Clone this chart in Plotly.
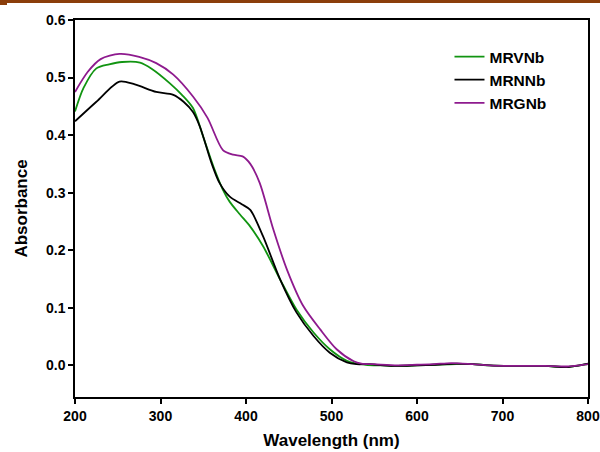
import plotly.graph_objects as go

# Wavelength (nm) and absorbance series
wl_mrvnb = [200, 210, 225, 240, 255, 276, 290, 311, 325, 338, 350, 362, 373, 381, 393, 405, 420, 440, 459, 479, 498, 518, 540, 560, 577, 600, 620, 646, 665, 685, 720, 750, 775, 790, 800]
abs_mrvnb = [0.441, 0.482, 0.516, 0.523, 0.527, 0.526, 0.515, 0.49, 0.47, 0.447, 0.397, 0.345, 0.305, 0.284, 0.262, 0.241, 0.207, 0.149, 0.097, 0.057, 0.028, 0.008, 0.001, 0.0, -0.001, 0.0, 0.001, 0.002, 0.002, 0.0, -0.001, -0.001, -0.003, 0.0, 0.002]

wl_mrnnb = [200, 225, 252, 270, 295, 315, 327, 338, 346, 360, 369, 381, 395, 405, 420, 440, 459, 479, 498, 518, 529, 545, 560, 577, 600, 620, 646, 665, 685, 720, 750, 775, 790, 800]
abs_mrnnb = [0.424, 0.458, 0.493, 0.488, 0.475, 0.47, 0.458, 0.44, 0.415, 0.35, 0.317, 0.293, 0.28, 0.27, 0.224, 0.149, 0.092, 0.051, 0.022, 0.005, 0.002, 0.002, 0.0, -0.001, 0.0, 0.001, 0.003, 0.002, 0.0, -0.001, -0.001, -0.003, 0.0, 0.003]

wl_mrgnb = [200, 215, 230, 252, 275, 295, 315, 338, 355, 373, 385, 396, 405, 416, 432, 448, 467, 487, 506, 526, 535, 550, 577, 600, 620, 640, 665, 685, 720, 750, 775, 790, 800]
abs_mrgnb = [0.475, 0.51, 0.532, 0.541, 0.536, 0.525, 0.505, 0.467, 0.43, 0.374, 0.366, 0.363, 0.35, 0.317, 0.236, 0.166, 0.103, 0.062, 0.028, 0.007, 0.003, 0.002, 0.0, 0.001, 0.002, 0.004, 0.002, 0.0, -0.001, -0.001, -0.002, 0.0, 0.002]

x_ticks = [200, 300, 400, 500, 600, 700, 800]
y_ticks = [0.0, 0.1, 0.2, 0.3, 0.4, 0.5, 0.6]

FONT = "Liberation Sans"

fig = go.Figure()
series = [
    ("MRVNb", wl_mrvnb, abs_mrvnb, "#119411"),
    ("MRNNb", wl_mrnnb, abs_mrnnb, "#000000"),
    ("MRGNb", wl_mrgnb, abs_mrgnb, "#8E1A8E"),
]
for name, x, y, c in series:
    fig.add_trace(go.Scatter(
        x=x, y=y, name=name, mode="lines", legendgroup=name,
        line=dict(color=c, width=1.8, shape="spline", smoothing=0.8),
    ))

fig.update_layout(
    width=600, height=452,
    margin=dict(l=75, r=12, t=20, b=55),
    paper_bgcolor="white", plot_bgcolor="white",
    font=dict(family=FONT, color="black"),
    showlegend=True,
    legend=dict(
        x=0.73, y=0.947, xanchor="left", yanchor="top",
        bgcolor="rgba(0,0,0,0)",
        font=dict(family=FONT, size=15.5, weight="bold", color="black"),
        tracegroupgap=0,
    ),
    shapes=[
        dict(type="rect", xref="paper", yref="paper",
             x0=-75/513, x1=525/513, y0=1 + 17/377, y1=1 + 21/377,
             fillcolor="#8B3E0A", line=dict(width=0), layer="above"),
        dict(type="rect", xref="paper", yref="paper",
             x0=-75/513, x1=-68/513, y0=1 + 15/377, y1=1 + 21/377,
             fillcolor="#8B3E0A", line=dict(width=0), layer="above"),
    ],
)
fig.update_xaxes(
    range=[200, 800], tickvals=x_ticks, automargin=False,
    showline=True, linecolor="black", linewidth=1.5, mirror=True,
    ticks="outside", ticklen=5, tickwidth=1.5, tickcolor="black",
    showgrid=False, zeroline=False,
    tickfont=dict(family=FONT, size=14, weight="bold"),
    title=dict(text="Wavelength (nm)", font=dict(family=FONT, size=17, weight="bold"), standoff=12),
)
fig.update_yaxes(
    range=[-0.055, 0.6], tickvals=y_ticks, tickformat=".1f", automargin=False,
    showline=True, linecolor="black", linewidth=1.5, mirror=True,
    ticks="outside", ticklen=5, tickwidth=1.5, tickcolor="black",
    showgrid=False, zeroline=False,
    tickfont=dict(family=FONT, size=14, weight="bold"),
    title=dict(text="Absorbance", font=dict(family=FONT, size=17, weight="bold"), standoff=14),
)

fig.write_html("out.html")
